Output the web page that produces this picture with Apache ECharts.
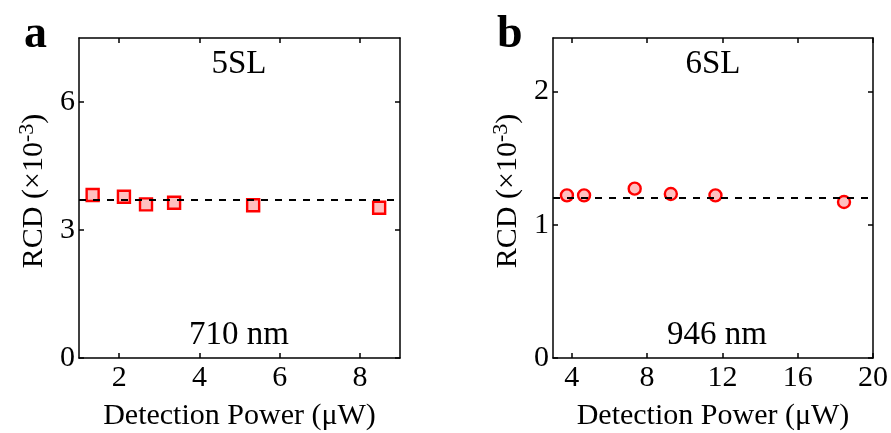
<!DOCTYPE html>
<html>
<head>
<meta charset="utf-8">
<script src="https://cdn.jsdelivr.net/npm/echarts@6/dist/echarts.min.js"></script>
<style>html,body{margin:0;padding:0;background:#fff}#c{width:891px;height:433px}</style>
</head>
<body>
<div id="c"></div>
<script>
// Panel a (5SL, 710 nm)
var powerA = [1.34, 2.12, 2.67, 3.37, 5.34, 8.48];
var rcdA = [3.82, 3.78, 3.60, 3.64, 3.58, 3.52];
var meanA = 3.70;
var xTicksA = [2, 4, 6, 8];
var yTicksA = [0, 3, 6];
// Panel b (6SL, 946 nm)
var powerB = [3.74, 4.65, 7.34, 9.26, 11.63, 18.46];
var rcdB = [1.22, 1.22, 1.27, 1.23, 1.22, 1.17];
var meanB = 1.20;
var xTicksB = [4, 8, 12, 16, 20];
var yTicksB = [0, 1, 2];

var FONT = '"Liberation Serif", "Times New Roman", serif';
var FS = 30;
var FA = 33;

function xAx(gi, min, max, ticks, top) {
  return {
    type: 'value', gridIndex: gi, min: min, max: max, position: top ? 'top' : 'bottom',
    name: top ? '' : 'Detection Power (\u03bcW)', nameLocation: 'middle', nameGap: 43,
    nameTextStyle: {fontFamily: FONT, fontSize: FS, color: '#000'},
    axisLine: {show: true, onZero: false, lineStyle: {color: '#000', width: 1.5}},
    axisTick: {show: true, inside: true, length: 5, customValues: ticks, lineStyle: {color: '#000', width: 1.5}},
    axisLabel: {show: !top, customValues: ticks, fontFamily: FONT, fontSize: FS, color: '#000', margin: 5},
    splitLine: {show: false}
  };
}
function yAx(gi, min, max, ticks, right) {
  return {
    type: 'value', gridIndex: gi, min: min, max: max, position: right ? 'right' : 'left',
    name: right ? '' : 'RCD (\u00d710{sup|-3})', nameLocation: 'middle', nameGap: 27, nameRotate: 90,
    nameTextStyle: {fontFamily: FONT, fontSize: FS, color: '#000', padding: [0, 0, 0, 14],
      rich: {sup: {fontFamily: FONT, fontSize: 22, color: '#000', verticalAlign: 'top', padding: [0,0,14,0]}}},
    axisLine: {show: true, onZero: false, lineStyle: {color: '#000', width: 1.5}},
    axisTick: {show: true, inside: true, length: 5, customValues: ticks, lineStyle: {color: '#000', width: 1.5}},
    axisLabel: {show: !right, customValues: ticks, fontFamily: FONT, fontSize: FS, color: '#000', margin: 4},
    splitLine: {show: false}
  };
}
function pts(xs, ys) { return xs.map(function (x, i) { return [x, ys[i]]; }); }

var chart = echarts.init(document.getElementById('c'), null, {renderer: 'canvas'});
chart.setOption({
  animation: false,
  grid: [
    {left: 79, top: 38, width: 321, height: 320, containLabel: false, outerBoundsMode: 'none'},
    {left: 553, top: 38, width: 320, height: 320, containLabel: false, outerBoundsMode: 'none'}
  ],
  xAxis: [
    xAx(0, 1, 9, xTicksA, false), xAx(0, 1, 9, xTicksA, true),
    xAx(1, 3, 20, xTicksB, false), xAx(1, 3, 20, xTicksB, true)
  ],
  yAxis: [
    yAx(0, 0, 7.5, yTicksA, false), yAx(0, 0, 7.5, yTicksA, true),
    yAx(1, 0, 2.4, yTicksB, false), yAx(1, 0, 2.4, yTicksB, true)
  ],
  series: [
    {type: 'scatter', xAxisIndex: 0, yAxisIndex: 0, data: pts(powerA, rcdA), symbol: 'rect', symbolSize: 12,
     itemStyle: {color: '#ffc0c0', borderColor: '#ff0000', borderWidth: 2.4, opacity: 1},
     markLine: {silent: true, symbol: 'none', label: {show: false},
       lineStyle: {color: '#000', type: [7, 7], width: 1.8}, data: [{yAxis: meanA}]}, z: 3},
    {type: 'scatter', xAxisIndex: 2, yAxisIndex: 2, data: pts(powerB, rcdB), symbol: 'circle', symbolSize: 12,
     itemStyle: {color: '#ffc0c0', borderColor: '#ff0000', borderWidth: 2.4, opacity: 1},
     markLine: {silent: true, symbol: 'none', label: {show: false},
       lineStyle: {color: '#000', type: [7, 7], width: 1.8}, data: [{yAxis: meanB}]}, z: 3}
  ],
  graphic: [
    {type: 'text', left: 24, top: 12, style: {text: 'a', font: 'bold 46px ' + FONT, fill: '#000'}},
    {type: 'text', left: 497, top: 12, style: {text: 'b', font: 'bold 46px ' + FONT, fill: '#000'}},
    {type: 'text', x: 239, y: 64, style: {text: '5SL', font: FA + 'px ' + FONT, fill: '#000', align: 'center', verticalAlign: 'middle'}},
    {type: 'text', x: 239, y: 335, style: {text: '710 nm', font: FA + 'px ' + FONT, fill: '#000', align: 'center', verticalAlign: 'middle'}},
    {type: 'text', x: 713, y: 64, style: {text: '6SL', font: FA + 'px ' + FONT, fill: '#000', align: 'center', verticalAlign: 'middle'}},
    {type: 'text', x: 717, y: 335, style: {text: '946 nm', font: FA + 'px ' + FONT, fill: '#000', align: 'center', verticalAlign: 'middle'}}
  ]
});
</script>
</body>
</html>
